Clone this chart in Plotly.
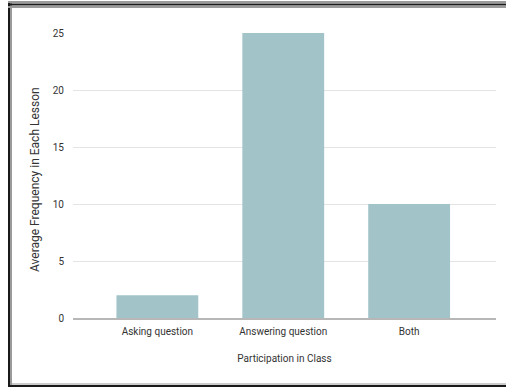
import plotly.graph_objects as go

categories = ["Asking question", "Answering question", "Both"]
frequency = [2, 25, 10]
y_ticks = [0, 5, 10, 15, 20, 25]

W, H = 506, 387
L, R, T, B = 73, 10, 33, 69
pw, ph = W - L - R, H - T - B


def px(x):
    return (x - L) / pw


def py(y):
    return (H - B - y) / ph


fig = go.Figure(
    go.Bar(
        x=categories,
        y=frequency,
        marker=dict(color="#a2c4c9", line=dict(width=0)),
        hoverinfo="skip",
    )
)

# frame lines around the chart (left, top, bottom)
frame = [
    dict(x0=px(11), x1=px(11), y0=py(3), y1=py(385), color="#9a9a9a", w=2),
    dict(x0=px(9), x1=px(9), y0=py(3), y1=py(387), color="#1a1a1a", w=2),
    dict(x0=px(8), x1=px(506), y0=py(2), y1=py(2), color="#9a9a9a", w=2),
    dict(x0=px(8), x1=px(506), y0=py(7), y1=py(7), color="#9a9a9a", w=2),
    dict(x0=px(8), x1=px(506), y0=py(4.5), y1=py(4.5), color="#1a1a1a", w=2),
    dict(x0=px(10), x1=px(506), y0=py(384), y1=py(384), color="#9a9a9a", w=1),
    dict(x0=px(8), x1=px(506), y0=py(386), y1=py(386), color="#1a1a1a", w=2),
]
fig.update_layout(
    shapes=[
        dict(type="line", xref="paper", yref="paper",
             x0=s["x0"], x1=s["x1"], y0=s["y0"], y1=s["y1"],
             line=dict(color=s["color"], width=s["w"]), layer="above")
        for s in frame
    ],
    annotations=[
        dict(text="Average Frequency in Each Lesson", textangle=-90,
             xref="paper", yref="paper", x=px(35), y=py(180),
             xanchor="center", yanchor="middle", showarrow=False,
             font=dict(size=12, color="#333333")),
    ],
)

fig.update_layout(
    width=W,
    height=H,
    margin=dict(l=L, r=R, t=T, b=B, pad=0),
    paper_bgcolor="white",
    plot_bgcolor="white",
    bargap=0.35,
    showlegend=False,
    font=dict(family="Roboto, Arial, sans-serif", size=10, color="#444444"),
    xaxis=dict(
        range=[-0.67, 2.69],
        showgrid=False,
        zeroline=False,
        showline=True,
        linecolor="#b7b7b7",
        linewidth=2,
        ticks="outside",
        ticklen=3,
        tickcolor="rgba(0,0,0,0)",
        tickfont=dict(size=10, color="#333333"),
        title=dict(text="Participation in Class", standoff=19,
                   font=dict(size=10, color="#333333")),
    ),
    yaxis=dict(
        range=[0, 25],
        tickvals=y_ticks,
        showgrid=True,
        gridcolor="#e4e4e4",
        gridwidth=1,
        zeroline=False,
        showline=False,
        ticks="outside",
        ticklen=6,
        tickcolor="rgba(0,0,0,0)",
        tickfont=dict(size=10, color="#333333"),
    ),
)

fig.write_html("out.html")
